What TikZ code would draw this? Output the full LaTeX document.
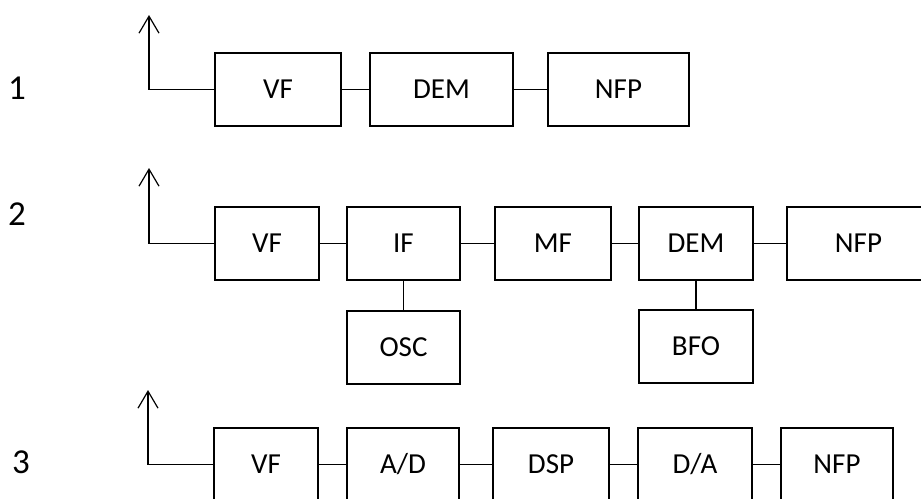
\documentclass[tikz,border=0pt]{standalone}
\usepackage{fontspec}
\setmainfont{Carlito}
\usetikzlibrary{arrows.meta}

\tikzset{
  blk/.style={draw, line width=2.4pt, rectangle, minimum height=73pt,
              inner sep=0pt, outer sep=0pt,
              font=\fontsize{29}{34}\selectfont},
  wire/.style={line width=1.2pt},
  antenna/.style={line width=1.2pt, -{Straight Barb[length=17pt,width=20pt,line width=1.2pt]}},
  rowlabel/.style={font=\fontsize{35}{42}\selectfont, inner sep=0pt}
}

\begin{document}
\begin{tikzpicture}[x=1pt, y=-1pt]
  \clip (0,0) rectangle (921,498);

  % row labels
  \node[rowlabel] (l1) at (17,88) {1};
  \node[rowlabel] (l2) at (17,214) {2};
  \node[rowlabel] (l3) at (21,462) {3};

  % receiver 1: direct conversion
  \node[blk, minimum width=126pt] (vf1)  at (278,89.5)   {VF};
  \node[blk, minimum width=143pt] (dem1) at (441.5,89.5) {DEM};
  \node[blk, minimum width=141pt] (nfp1) at (618.5,89.5) {NFP};
  \coordinate (ant1) at (149,15);
  \draw[antenna] (vf1.west) -| (ant1);
  \draw[wire] (vf1) -- (dem1);
  \draw[wire] (dem1) -- (nfp1);

  % receiver 2: superheterodyne
  \node[blk, minimum width=104pt] (vf2)  at (267,243.5)   {VF};
  \node[blk, minimum width=113pt] (if2)  at (403.5,243.5) {IF};
  \node[blk, minimum width=116pt] (mf2)  at (553,243.5)   {MF};
  \node[blk, minimum width=114pt] (dem2) at (696,243.5)   {DEM};
  \node[blk, minimum width=143pt] (nfp2) at (858.5,243.5) {NFP};
  \node[blk, minimum width=113pt] (osc2) at (403.5,347.5) {OSC};
  \node[blk, minimum width=114pt] (bfo2) at (696,346.5)   {BFO};
  \coordinate (ant2) at (149,168);
  \draw[antenna] (vf2.west) -| (ant2);
  \draw[wire] (vf2) -- (if2);
  \draw[wire] (if2) -- (mf2);
  \draw[wire] (mf2) -- (dem2);
  \draw[wire] (dem2) -- (nfp2);
  \draw[wire] (if2) -- (osc2);
  \draw[wire] (dem2) -- (bfo2);

  % receiver 3: digital
  \node[blk, minimum width=104pt] (vf3)  at (266,464.5) {VF};
  \node[blk, minimum width=112pt] (ad3)  at (403,464.5) {A/D};
  \node[blk, minimum width=116pt] (dsp3) at (551,464.5) {DSP};
  \node[blk, minimum width=114pt] (da3)  at (695,464.5) {D/A};
  \node[blk, minimum width=112pt] (nfp3) at (837,464.5) {NFP};
  \coordinate (ant3) at (148,390);
  \draw[antenna] (vf3.west) -| (ant3);
  \draw[wire] (vf3) -- (ad3);
  \draw[wire] (ad3) -- (dsp3);
  \draw[wire] (dsp3) -- (da3);
  \draw[wire] (da3) -- (nfp3);
\end{tikzpicture}
\end{document}
